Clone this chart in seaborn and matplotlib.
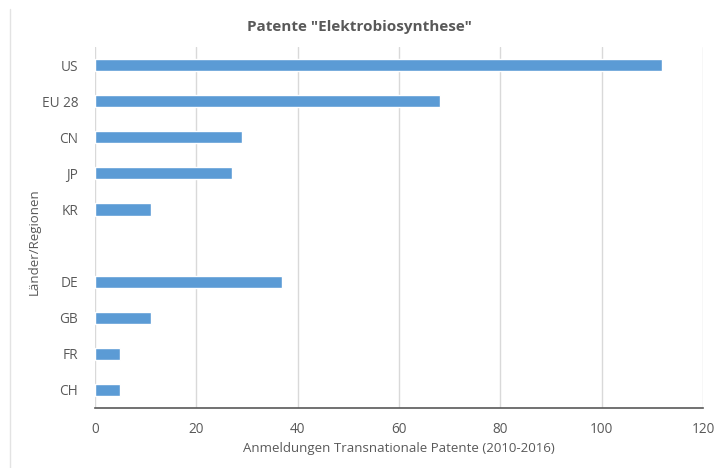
import matplotlib
matplotlib.use("Agg")
import matplotlib.pyplot as plt
import matplotlib.lines as mlines
import seaborn as sns
import pandas as pd

# Daten (Anmeldungen transnationaler Patente 2010-2016)
regions = ["US", "EU 28", "CN", "JP", "KR", "DE", "GB", "FR", "CH"]
patents = [112, 68, 29, 27, 11, 37, 11, 5, 5]
# Reihenfolge der Achse, mit Leerzeile zwischen KR und DE
order = ["US", "EU 28", "CN", "JP", "KR", " ", "DE", "GB", "FR", "CH"]
x_ticks = [0, 20, 40, 60, 80, 100, 120]

df = pd.DataFrame({"region": regions, "patente": patents})

sns.set_style("white")
plt.rcParams["font.family"] = ["Open Sans", "DejaVu Sans"]
text_color = "#595959"

fig = plt.figure(figsize=(7.19, 4.68), dpi=100)
ax = fig.add_axes([95 / 719, 1 - 408 / 468, (703 - 95) / 719, (408 - 47) / 468])

sns.barplot(data=df, x="patente", y="region", order=order, color="#5B9BD5",
            width=0.34, saturation=1, ax=ax, zorder=3)

ax.set_xlim(0, 120)
ax.set_ylim(9.5, -0.5)
ax.set_xticks(x_ticks)
ax.xaxis.grid(True, color="#D9D9D9", linewidth=1, zorder=0)
for side in ["top", "right", "left"]:
    ax.spines[side].set_visible(False)
ax.spines["bottom"].set_color(text_color)
ax.spines["bottom"].set_linewidth(1.2)
ax.tick_params(axis="x", colors=text_color, labelsize=9.8, length=4, width=1, direction="out", pad=6)
ax.tick_params(axis="y", colors=text_color, labelsize=9.8, length=0, pad=12)

ax.set_xlabel("Anmeldungen Transnationale Patente (2010-2016)", color=text_color, fontsize=9.5, labelpad=4)
ax.set_ylabel("Länder/Regionen", color=text_color, fontsize=9.5)
ax.yaxis.set_label_coords(-0.09, 0.46)
fig.text(0.5, 1 - 27 / 468, 'Patente "Elektrobiosynthese"', ha="center", va="center",
         color=text_color, fontsize=11, fontweight="bold")

# linker Rahmen des Diagrammbereichs
fig.add_artist(mlines.Line2D([10 / 719, 10 / 719], [0, 1 - 9 / 468], color="#E3E3E3", linewidth=1))

fig.savefig("out.png", dpi=100)
